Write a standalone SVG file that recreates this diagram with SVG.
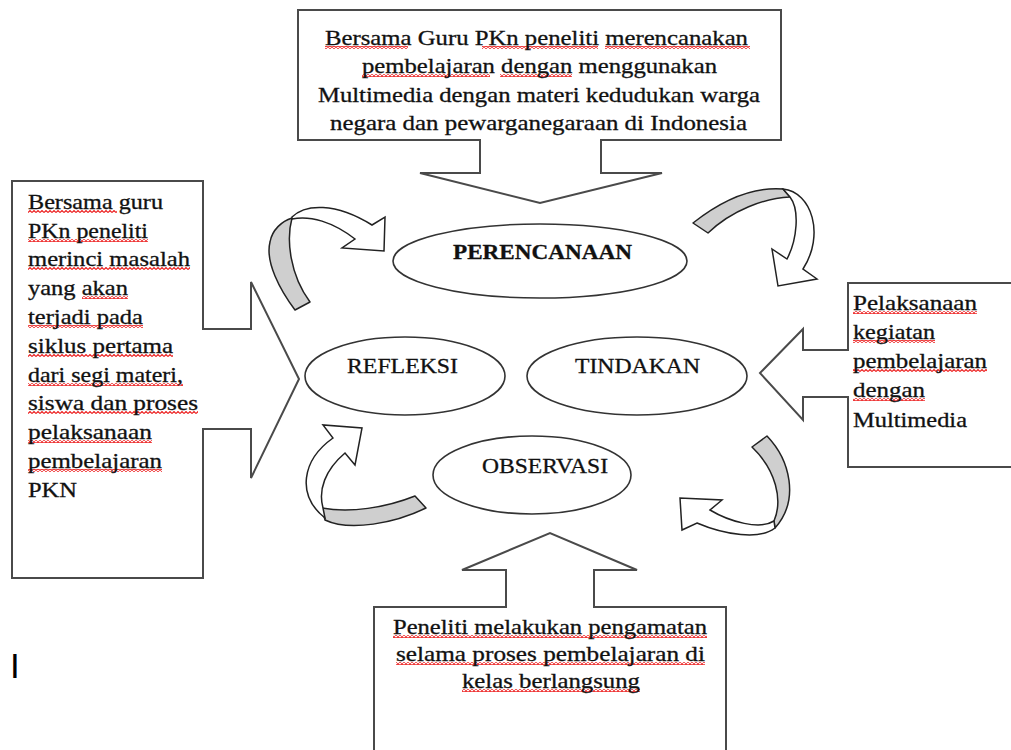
<svg xmlns="http://www.w3.org/2000/svg" width="1011" height="750" viewBox="0 0 1011 750">
  <style>
    .callout { fill: #fff; stroke: #4a4a4a; stroke-width: 2; stroke-linejoin: miter; }
    .stage { fill: #fff; stroke: #333; stroke-width: 1.6; }
    .band { fill: #cfcfcf; stroke: #222; stroke-width: 1.5; stroke-linejoin: round; }
    .head { fill: #fff; stroke: #222; stroke-width: 1.5; stroke-linejoin: miter; }
    .t { font-family: "Liberation Serif", "Times New Roman", serif; font-size: 21px; fill: #111; stroke: #111; stroke-width: 0.3; }
    .b { font-weight: bold; }
    .sq { fill: url(#squiggle); }
  </style>
  <defs>
    <!-- red wavy spell-check underline -->
    <pattern id="squiggle" width="4" height="3" patternUnits="userSpaceOnUse">
      <polyline points="0,2.5 2,0.5 4,2.5" fill="none" stroke="#ec1c1c" stroke-width="1.1"/>
    </pattern>
  </defs>

  <rect width="1011" height="750" fill="#fff"/>

  <!-- cycle arrows between the stages -->
  <g id="connectors">
    <!-- REFLEKSI to PERENCANAAN -->
    <path class="band" d="M295,310 C280,290 265,262 270,242 C272,230 282,221 292,218 C286,240 290,275 310,302 Z"/>
    <path class="head" d="M292,217 C305,204 335,202 372,225 L385,217 L384,251 L342,248 L355,239 C333,222 310,215 292,219 Z"/>
    <!-- PERENCANAAN to TINDAKAN -->
    <path class="band" d="M693,223 C712,208 745,186 783,189 L790,197 C765,198 732,210 708,233 Z"/>
    <path class="head" d="M783,189 C812,192 825,235 803,269 L817,279 L778,286 L772,249 L787,259 C797,240 800,210 790,197 Z"/>
    <!-- TINDAKAN to OBSERVASI -->
    <path class="band" d="M752,447 L767,436 C790,460 800,500 775,528 L774,521 C783,500 776,470 752,447 Z"/>
    <path class="head" d="M775,528 C760,540 725,535 697,523 L682,530 L680,498 L722,500 L710,510 C730,522 760,530 774,521 Z"/>
    <!-- OBSERVASI to REFLEKSI -->
    <path class="band" d="M415,496 L426,508 C395,523 350,532 325,520 L322,508 C350,513 385,508 415,496 Z"/>
    <path class="head" d="M325,518 C296,495 302,460 333,438 L323,425 L362,428 L355,465 L345,453 C325,470 318,490 323,508 Z"/>
  </g>

  <!-- planning callout -->
  <g id="note-plan">
    <path class="callout" d="M298,10 H781 V140 H601 V173 H662 L540,203 L420,173 H480 V140 H298 Z"/>
    <rect class="sq" x="325" y="46" width="83" height="3"/>
    <rect class="sq" x="482" y="46" width="116" height="3"/>
    <rect class="sq" x="605" y="46" width="145" height="3"/>
    <rect class="sq" x="362" y="74" width="128" height="3"/>
    <rect class="sq" x="500" y="74" width="72" height="3"/>
    <text class="t" x="325" y="45" textLength="423" lengthAdjust="spacingAndGlyphs">Bersama Guru PKn peneliti merencanakan</text>
    <text class="t" x="362" y="73" textLength="355" lengthAdjust="spacingAndGlyphs">pembelajaran dengan menggunakan</text>
    <text class="t" x="318" y="102" textLength="442" lengthAdjust="spacingAndGlyphs">Multimedia dengan materi kedudukan warga</text>
    <text class="t" x="330" y="130" textLength="417" lengthAdjust="spacingAndGlyphs">negara dan pewarganegaraan di Indonesia</text>
  </g>

  <!-- reflection callout -->
  <g id="note-reflect">
    <path class="callout" d="M12,181 H203 V329 H251 V282 L299,379 L251,478 V429 H203 V578 H12 Z"/>
    <rect class="sq" x="28" y="210" width="89" height="3"/>
    <rect class="sq" x="28" y="239" width="120" height="3"/>
    <rect class="sq" x="28" y="267" width="162" height="3"/>
    <rect class="sq" x="82" y="296" width="46" height="3"/>
    <rect class="sq" x="28" y="325" width="115" height="3"/>
    <rect class="sq" x="28" y="354" width="145" height="3"/>
    <rect class="sq" x="28" y="383" width="155" height="3"/>
    <rect class="sq" x="28" y="411" width="170" height="3"/>
    <rect class="sq" x="28" y="440" width="124" height="3"/>
    <rect class="sq" x="28" y="469" width="134" height="3"/>
    <text class="t" x="28" y="209" textLength="135" lengthAdjust="spacingAndGlyphs">Bersama guru</text>
    <text class="t" x="28" y="238" textLength="120" lengthAdjust="spacingAndGlyphs">PKn peneliti</text>
    <text class="t" x="28" y="266" textLength="162" lengthAdjust="spacingAndGlyphs">merinci masalah</text>
    <text class="t" x="28" y="295" textLength="100" lengthAdjust="spacingAndGlyphs">yang akan</text>
    <text class="t" x="28" y="324" textLength="115" lengthAdjust="spacingAndGlyphs">terjadi pada</text>
    <text class="t" x="28" y="353" textLength="145" lengthAdjust="spacingAndGlyphs">siklus pertama</text>
    <text class="t" x="28" y="382" textLength="155" lengthAdjust="spacingAndGlyphs">dari segi materi,</text>
    <text class="t" x="28" y="410" textLength="170" lengthAdjust="spacingAndGlyphs">siswa dan proses</text>
    <text class="t" x="28" y="439" textLength="124" lengthAdjust="spacingAndGlyphs">pelaksanaan</text>
    <text class="t" x="28" y="468" textLength="134" lengthAdjust="spacingAndGlyphs">pembelajaran</text>
    <text class="t" x="28" y="497" textLength="49" lengthAdjust="spacingAndGlyphs">PKN</text>
  </g>

  <!-- action callout -->
  <g id="note-action">
    <path class="callout" d="M1016,283 H848 V350 H803 V329 L760,373 L803,420 V397 H848 V467 H1016"/>
    <rect class="sq" x="853" y="311" width="124" height="3"/>
    <rect class="sq" x="853" y="340" width="82" height="3"/>
    <rect class="sq" x="853" y="369" width="134" height="3"/>
    <rect class="sq" x="853" y="398" width="72" height="3"/>
    <text class="t" x="853" y="310" textLength="124" lengthAdjust="spacingAndGlyphs">Pelaksanaan</text>
    <text class="t" x="853" y="339" textLength="82" lengthAdjust="spacingAndGlyphs">kegiatan</text>
    <text class="t" x="853" y="368" textLength="134" lengthAdjust="spacingAndGlyphs">pembelajaran</text>
    <text class="t" x="853" y="397" textLength="72" lengthAdjust="spacingAndGlyphs">dengan</text>
    <text class="t" x="853" y="427" textLength="114" lengthAdjust="spacingAndGlyphs">Multimedia</text>
  </g>

  <!-- observation callout -->
  <g id="note-observe">
    <path class="callout" d="M374,756 V607 H506 V570 H462 L550,533 L637,570 H594 V607 H726 V756"/>
    <rect class="sq" x="393" y="635" width="314" height="3"/>
    <rect class="sq" x="396" y="662" width="309" height="3"/>
    <rect class="sq" x="462" y="689" width="178" height="3"/>
    <text class="t" x="393" y="634" textLength="314" lengthAdjust="spacingAndGlyphs">Peneliti melakukan pengamatan</text>
    <text class="t" x="396" y="661" textLength="309" lengthAdjust="spacingAndGlyphs">selama proses pembelajaran di</text>
    <text class="t" x="462" y="688" textLength="178" lengthAdjust="spacingAndGlyphs">kelas berlangsung</text>
  </g>

  <!-- stages of the cycle -->
  <g id="stage-perencanaan">
    <ellipse class="stage" cx="540" cy="261" rx="147" ry="37"/>
    <text class="t b" x="453" y="259" textLength="179" lengthAdjust="spacingAndGlyphs">PERENCANAAN</text>
  </g>
  <g id="stage-refleksi">
    <ellipse class="stage" cx="405" cy="376" rx="100" ry="39"/>
    <text class="t" x="347" y="373" textLength="111" lengthAdjust="spacingAndGlyphs">REFLEKSI</text>
  </g>
  <g id="stage-tindakan">
    <ellipse class="stage" cx="637" cy="376" rx="110" ry="39"/>
    <text class="t" x="575" y="373" textLength="125" lengthAdjust="spacingAndGlyphs">TINDAKAN</text>
  </g>
  <g id="stage-observasi">
    <ellipse class="stage" cx="532" cy="475" rx="99" ry="39"/>
    <text class="t" x="482" y="473" textLength="126" lengthAdjust="spacingAndGlyphs">OBSERVASI</text>
  </g>

  <text x="10" y="678" font-family="Liberation Sans, Arial, sans-serif" font-size="35" fill="#000">I</text>
</svg>
